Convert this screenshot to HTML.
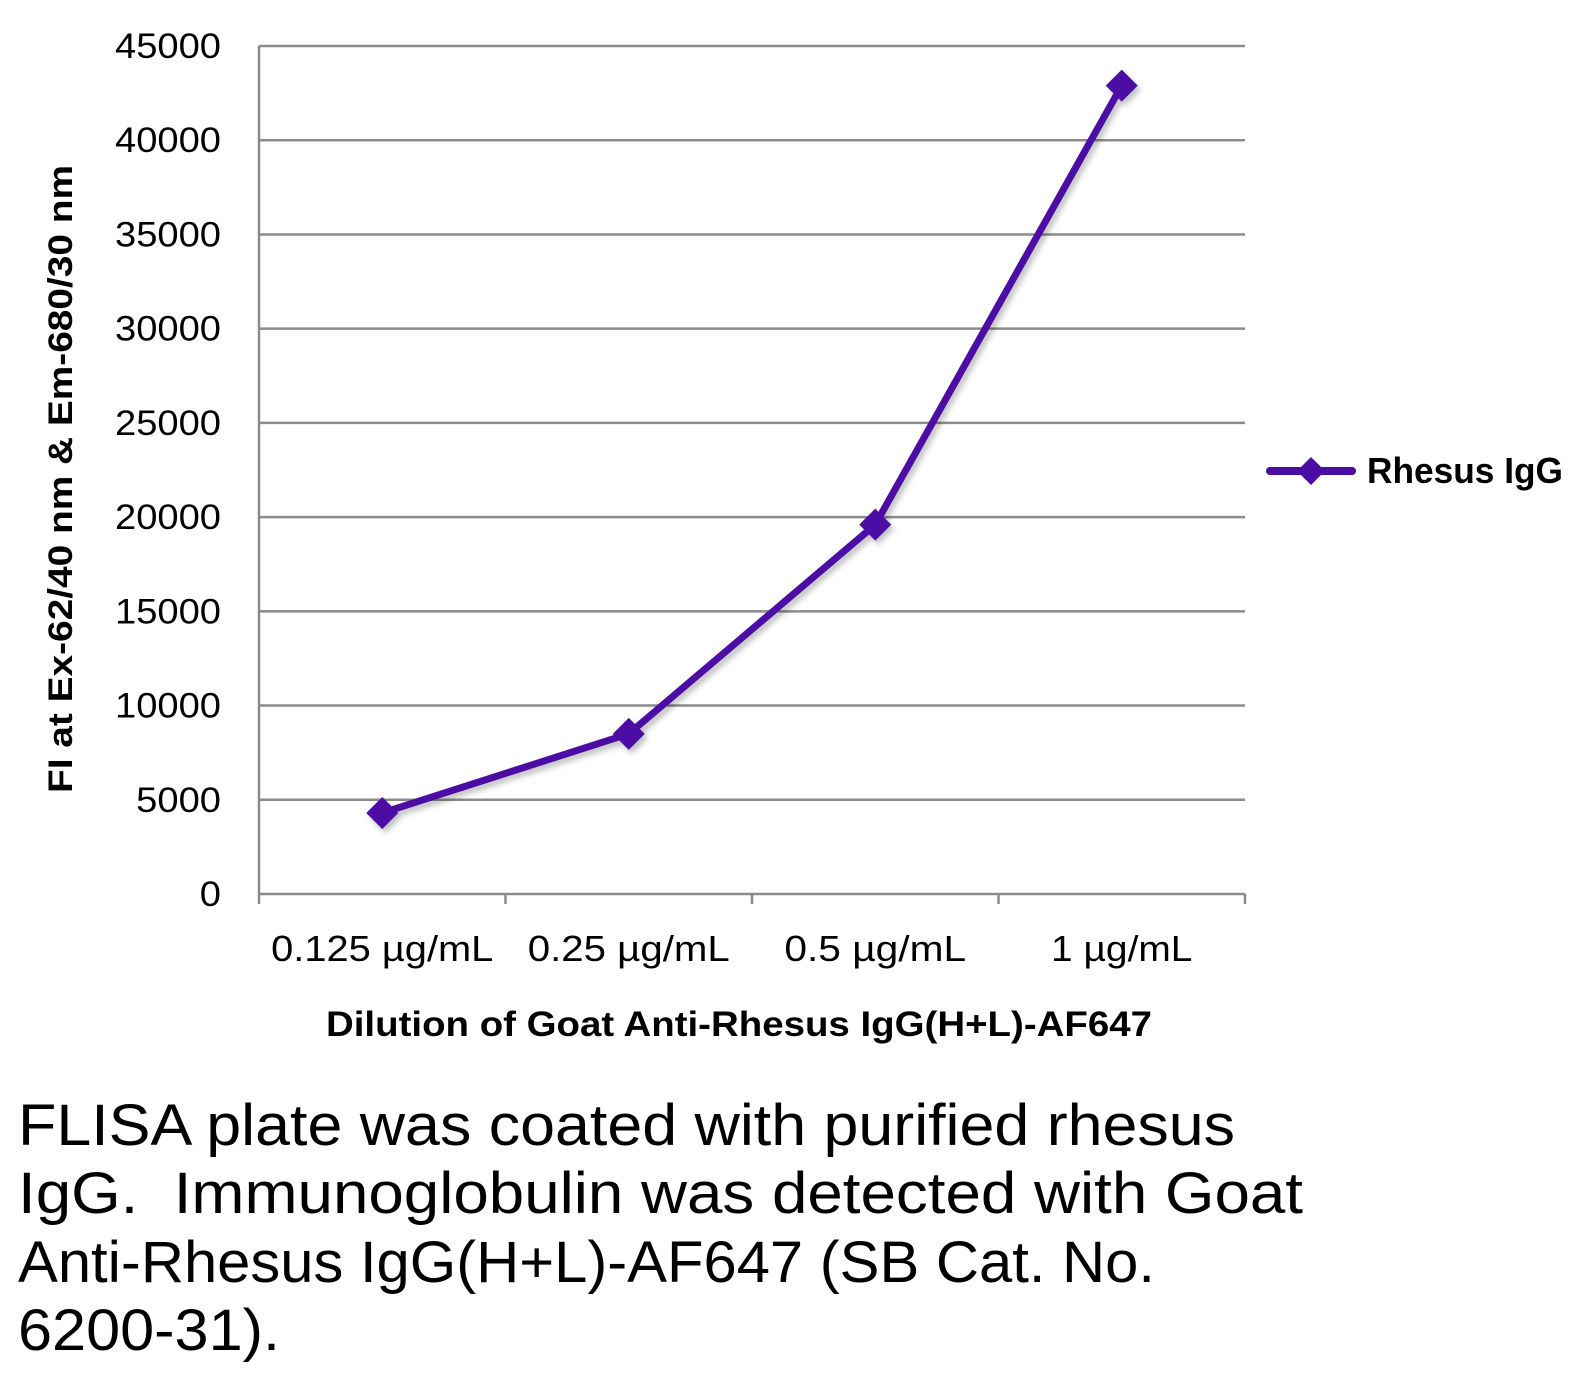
<!DOCTYPE html>
<html><head><meta charset="utf-8"><style>
html,body{margin:0;padding:0;background:#fff;}
svg{display:block;font-family:"Liberation Sans",sans-serif;}
</style></head><body>
<svg id="chart" width="1588" height="1381" viewBox="0 0 1588 1381">
<defs><filter id="sh" x="-10%" y="-10%" width="130%" height="130%"><feDropShadow dx="3" dy="4" stdDeviation="3" flood-color="#000" flood-opacity="0.25"/></filter></defs>
<g id="grid"></g>
<g id="yticks"></g>
<g id="xaxis"></g>
<g id="series" filter="url(#sh)"></g>
<text transform="translate(72,479) rotate(-90)" text-anchor="middle" font-weight="bold" font-size="34" textLength="628" lengthAdjust="spacingAndGlyphs">FI at Ex-62/40 nm &amp; Em-680/30 nm</text>
<text x="326" y="1036" font-weight="bold" font-size="35" textLength="826" lengthAdjust="spacingAndGlyphs">Dilution of Goat Anti-Rhesus IgG(H+L)-AF647</text>
<g>
<line x1="1270" y1="471" x2="1352" y2="471" stroke="#4b0ca3" stroke-width="8" stroke-linecap="round"/>
<polygon points="1311,457 1325,471 1311,485 1297,471" fill="#4b0ca3"/>
<text x="1367" y="483" font-weight="bold" font-size="36" textLength="196" lengthAdjust="spacingAndGlyphs">Rhesus IgG</text>
</g>
<g font-size="58" fill="#000">
<text x="18" y="1145" textLength="1217" lengthAdjust="spacingAndGlyphs">FLISA plate was coated with purified rhesus</text>
<text x="18" y="1213" textLength="1285" lengthAdjust="spacingAndGlyphs">IgG.&#160; Immunoglobulin was detected with Goat</text>
<text x="18" y="1282" textLength="1137" lengthAdjust="spacingAndGlyphs">Anti-Rhesus IgG(H+L)-AF647 (SB Cat. No.</text>
<text x="18" y="1350" textLength="262" lengthAdjust="spacingAndGlyphs">6200-31).</text>
</g>
</svg>
<script>
const categories = ["0.125 µg/mL","0.25 µg/mL","0.5 µg/mL","1 µg/mL"];
const values = [4300, 8500, 19600, 42900];
const yTicks = [0,5000,10000,15000,20000,25000,30000,35000,40000,45000];
const NS="http://www.w3.org/2000/svg";
const L=259,R=1245,T=46,B=894,YMAX=45000;
const y=v=>B-(v/YMAX)*(B-T);
const cw=(R-L)/categories.length;
const x=i=>L+cw*(i+0.5);
function mk(tag,attrs,parent){const e=document.createElementNS(NS,tag);for(const k in attrs)e.setAttribute(k,attrs[k]);parent.appendChild(e);return e;}
const grid=document.getElementById('grid'),yt=document.getElementById('yticks'),xa=document.getElementById('xaxis'),se=document.getElementById('series');
yTicks.forEach(t=>{
 if(t>0){const g=mk('line',{x1:L,x2:R,y1:y(t),y2:y(t),stroke:'#8c8c8c','stroke-width':2.5},grid);
 
 }
 const s=String(t);
 const tx=mk('text',{x:221,y:y(t)+12,'text-anchor':'end','font-size':35,fill:'#000',textLength:s.length*21.2,lengthAdjust:'spacingAndGlyphs'},yt);
 tx.textContent=s;
 
 
});
mk('line',{x1:L,x2:L,y1:T,y2:B,stroke:'#8c8c8c','stroke-width':2.5},xa);
mk('line',{x1:L,x2:R,y1:B,y2:B,stroke:'#8c8c8c','stroke-width':2.5},xa);
for(let i=0;i<=categories.length;i++){mk('line',{x1:L+cw*i,x2:L+cw*i,y1:B,y2:B+10,stroke:'#8c8c8c','stroke-width':2.5},xa);}
categories.forEach((c,i)=>{
 const tx=mk('text',{x:x(i),y:961,'text-anchor':'middle','font-size':36,fill:'#000',textLength:c.length*20.2,lengthAdjust:'spacingAndGlyphs'},xa);
 tx.textContent=c;
 
 
});
const pl=mk('polyline',{points:values.map((v,i)=>x(i)+','+y(v)).join(' '),fill:'none',stroke:'#4b0ca3','stroke-width':7,'stroke-linejoin':'round'},se);


values.forEach((v,i)=>{
 const cx=x(i),cy=y(v);
 const p=mk('polygon',{points:`${cx},${cy-16} ${cx+16},${cy} ${cx},${cy+16} ${cx-16},${cy}`,fill:'#4b0ca3'},se);
 
 
});
</script>
</body></html>
